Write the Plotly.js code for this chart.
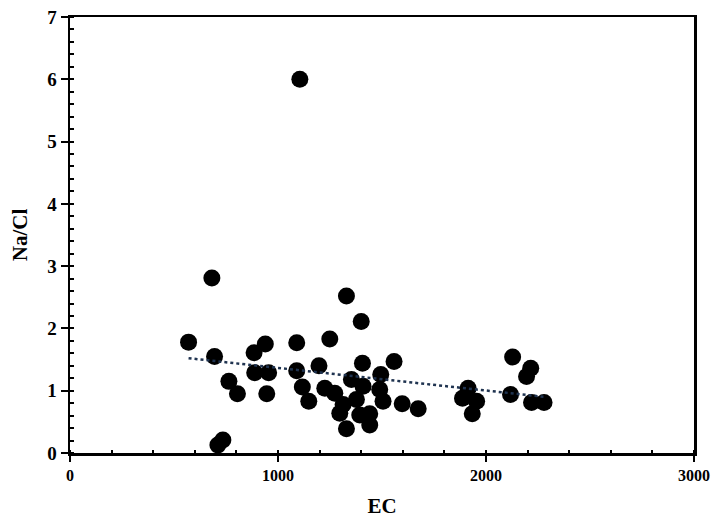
<!DOCTYPE html>
<html>
<head>
<meta charset="utf-8">
<script src="https://cdn.plot.ly/plotly-3.0.1.min.js"></script>
<style>html,body{margin:0;padding:0;background:#fff;}#chart{width:715px;height:523px;}</style>
</head>
<body>
<div id="chart"></div>
<script>
var ecValues = [1105, 682, 1329, 1400, 570, 695, 939, 885, 1090, 1249, 1406, 1558, 1197, 888, 955, 1090, 764, 805, 946, 1117, 1148, 1225, 1273, 1353, 1409, 1494, 1489, 1505, 1377, 1313, 1297, 1393, 1441, 1329, 1441, 1597, 1674, 735, 711, 1914, 1887, 1955, 1934, 2128, 2215, 2195, 2118, 2219, 2279];
var naClValues = [6.0, 2.81, 2.52, 2.11, 1.78, 1.55, 1.75, 1.61, 1.77, 1.83, 1.44, 1.47, 1.40, 1.29, 1.29, 1.32, 1.15, 0.95, 0.95, 1.06, 0.83, 1.04, 0.96, 1.18, 1.07, 1.26, 1.02, 0.83, 0.86, 0.78, 0.64, 0.61, 0.63, 0.39, 0.45, 0.79, 0.71, 0.21, 0.13, 1.04, 0.88, 0.83, 0.63, 1.54, 1.36, 1.23, 0.94, 0.81, 0.81];
var xTickVals = [0, 1000, 2000, 3000];
var xTickLabels = ['0', '1000', '2000', '3000'];
var yTickVals = [0, 1, 2, 3, 4, 5, 6, 7];
var yTickLabels = ['0', '1', '2', '3', '4', '5', '6', '7'];

// linear least-squares trendline from the data
function fit(xs, ys) {
  var n = xs.length, sx = 0, sy = 0, sxx = 0, sxy = 0;
  for (var i = 0; i < n; i++) { sx += xs[i]; sy += ys[i]; sxx += xs[i]*xs[i]; sxy += xs[i]*ys[i]; }
  var b = (n*sxy - sx*sy) / (n*sxx - sx*sx);
  var a = (sy - b*sx) / n;
  return {a: a, b: b};
}
var f = fit(ecValues, naClValues);
var xmin = Math.min.apply(null, ecValues), xmax = Math.max.apply(null, ecValues);
var trendX = [xmin, xmax];
var trendY = trendX.map(function (x) { return f.a + f.b * x; });

var fam = '"Liberation Serif", "Times New Roman", serif';
function bold(s) { return '<b>' + s + '</b>'; }

var data = [
  {x: ecValues, y: naClValues, type: 'scatter', mode: 'markers',
   marker: {color: '#000', size: 17}, showlegend: false},
  {x: trendX, y: trendY, type: 'scatter', mode: 'lines',
   line: {color: '#1f3350', width: 2.5, dash: 'dot'}, showlegend: false}
];

var layout = {
  width: 715, height: 523,
  margin: {l: 70, r: 21, t: 17, b: 70},
  paper_bgcolor: '#fff', plot_bgcolor: '#fff',
  font: {family: fam, color: '#000'},
  xaxis: {
    range: [0, 3000], tickvals: xTickVals, ticktext: xTickLabels.map(bold),
    ticks: 'outside', ticklen: 6, tickwidth: 2, tickcolor: '#000',
    minor: {dtick: 200, ticks: 'inside', ticklen: 3, tickwidth: 2, tickcolor: '#000', showgrid: false},
    showline: true, linecolor: '#000', linewidth: 2.5, mirror: true,
    showgrid: false, zeroline: false,
    tickfont: {family: fam, size: 16, color: '#000'},
    title: {text: '<b>EC</b>', font: {family: fam, size: 21, color: '#000'}, standoff: 16}
  },
  yaxis: {
    range: [0, 7], tickvals: yTickVals, ticktext: yTickLabels.map(bold),
    ticks: 'outside', ticklen: 7, tickwidth: 2, tickcolor: '#000',
    minor: {dtick: 0.2, ticks: 'inside', ticklen: 4, tickwidth: 2, tickcolor: '#000', showgrid: false},
    showline: true, linecolor: '#000', linewidth: 2.5, mirror: true,
    showgrid: false, zeroline: false,
    tickfont: {family: fam, size: 19, color: '#000'},
    title: {text: '<b>Na/Cl</b>', font: {family: fam, size: 21, color: '#000'}, standoff: 14}
  }
};

Plotly.newPlot('chart', data, layout, {displayModeBar: false, staticPlot: true});
</script>
</body>
</html>
